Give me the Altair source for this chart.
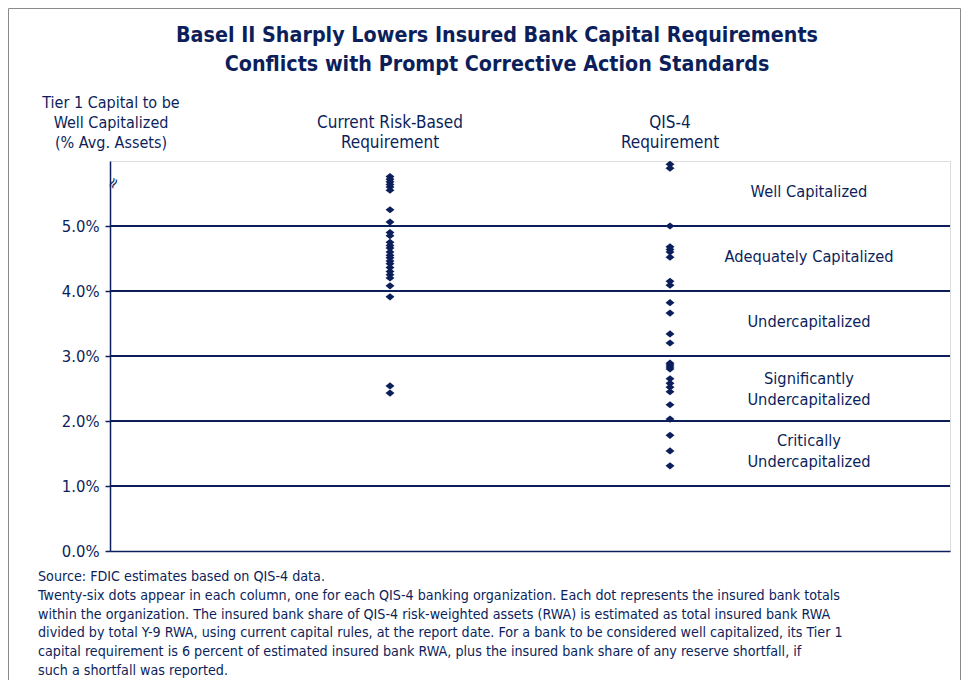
import altair as alt
import pandas as pd

NAVY = "#0c1f5b"
FONT = "Liberation Sans Narrow, DejaVu Sans Condensed, sans-serif"

# ---- data ----
columns = ["Current Risk-Based Requirement", "QIS-4 Requirement"]
header_labels = ["Current Risk-Based\nRequirement", "QIS-4\nRequirement"]

current_vals = [5.76, 5.72, 5.68, 5.64, 5.60, 5.55, 5.25, 5.06, 4.90, 4.85,
                4.75, 4.70, 4.66, 4.60, 4.55, 4.51, 4.46, 4.42, 4.36, 4.30,
                4.25, 4.20, 4.08, 3.91, 2.54, 2.43]
qis_vals = [5.95, 5.89, 5.00, 4.68, 4.64, 4.60, 4.52, 4.15, 4.09, 3.82,
            3.66, 3.34, 3.20, 2.89, 2.86, 2.83, 2.80, 2.65, 2.58, 2.52,
            2.45, 2.25, 2.03, 1.78, 1.54, 1.31]

grid_vals = [1, 2, 3, 4, 5]
tick_vals = [0, 1, 2, 3, 4, 5]

zone_labels = ["Well Capitalized", "Adequately Capitalized", "Undercapitalized",
               "Significantly\nUndercapitalized", "Critically\nUndercapitalized"]
zone_first_line = [5.52, 4.52, 3.52, 2.65, 1.69]

break_at = [5.66]

title_text = "Basel II Sharply Lowers Insured Bank Capital Requirements\nConflicts with Prompt Corrective Action Standards"
y_title_text = "Tier 1 Capital to be\nWell Capitalized\n(% Avg. Assets)"
footnote_text = "\n".join([
    "Source: FDIC estimates based on QIS-4 data.",
    "Twenty-six dots appear in each column, one for each QIS-4 banking organization. Each dot represents the insured bank totals",
    "within the organization. The insured bank share of QIS-4 risk-weighted assets (RWA) is estimated as total insured bank RWA",
    "divided by total Y-9 RWA, using current capital rules, at the report date. For a bank to be considered well capitalized, its Tier 1",
    "capital requirement is 6 percent of estimated insured bank RWA, plus the insured bank share of any reserve shortfall, if",
    "such a shortfall was reported.",
])

# ---- tables ----
dots = pd.DataFrame({
    "column": [columns[0]] * len(current_vals) + [columns[1]] * len(qis_vals),
    "value": current_vals + qis_vals,
})
grid_df = pd.DataFrame({"value": grid_vals})
zones_df = pd.DataFrame({"label": zone_labels, "value": zone_first_line})
headers_df = pd.DataFrame({"column": columns, "label": header_labels})
break_df = pd.DataFrame({"value": break_at, "sym": ["≈"]})
one = pd.DataFrame({"t": [title_text], "y": [y_title_text], "f": [footnote_text]})

xscale = alt.Scale(type="point", domain=columns, padding=1)
yscale = alt.Scale(domain=[0, 6], nice=False)

grid = alt.Chart(grid_df).mark_rule(color=NAVY, strokeWidth=2).encode(
    y=alt.Y("value:Q", scale=yscale)
)

points = alt.Chart(dots).mark_point(
    shape="M-1,0L0,-0.8L1,0L0,0.8Z", filled=True, size=80, color=NAVY, opacity=1
).encode(
    x=alt.X("column:N", scale=xscale,
            axis=alt.Axis(labels=False, ticks=False, title=None, domain=True,
                          domainColor=NAVY, domainWidth=1.5)),
    y=alt.Y("value:Q", scale=yscale,
            axis=alt.Axis(values=tick_vals, labelExpr="format(datum.value, '.1f') + '%'",
                          title=None, grid=False, tickSize=5, tickColor=NAVY, tickWidth=1.5,
                          domainColor=NAVY, domainWidth=1.5, labelColor=NAVY,
                          labelFont=FONT, labelFontSize=16.5, labelPadding=6)),
)

headers = alt.Chart(headers_df).mark_text(
    font=FONT, fontSize=17, color=NAVY, lineBreak="\n", lineHeight=20,
    align="center", baseline="middle"
).encode(x=alt.X("column:N", scale=xscale), y=alt.value(-38), text="label:N")

zones = alt.Chart(zones_df).mark_text(
    font=FONT, fontSize=16.3, color=NAVY, lineBreak="\n", lineHeight=21,
    align="center", baseline="middle"
).encode(x=alt.value(699), y=alt.Y("value:Q", scale=yscale), text="label:N")

brk = alt.Chart(break_df).mark_text(
    font="DejaVu Sans", fontSize=15, color=NAVY, align="center", baseline="middle",
    angle=300
).encode(x=alt.value(3), y=alt.Y("value:Q", scale=yscale), text="sym:N")

title = alt.Chart(one).mark_text(
    font=FONT, fontSize=21.3, fontWeight="bold", color=NAVY, lineBreak="\n",
    lineHeight=29, align="center", baseline="middle"
).encode(x=alt.value(387), y=alt.value(-125), text="t:N")

ytitle = alt.Chart(one).mark_text(
    font=FONT, fontSize=16, color=NAVY, lineBreak="\n", lineHeight=20,
    align="center", baseline="middle"
).encode(x=alt.value(1), y=alt.value(-58), text="y:N")

foot = alt.Chart(one).mark_text(
    font=FONT, fontSize=14.2, color=NAVY, lineBreak="\n", lineHeight=18.8,
    align="left", baseline="middle"
).encode(x=alt.value(-72), y=alt.value(416), text="f:N")

border = alt.Chart(one).mark_rect(
    fillOpacity=0, stroke="#8a8a8a", strokeWidth=1
).encode(x=alt.value(-101.5), x2=alt.value(850.5), y=alt.value(-152.5), y2=alt.value(600))

chart = alt.layer(
    border, grid, points, headers, zones, brk, title, ytitle, foot
).properties(
    width=840, height=390,
    padding={"left": 102, "top": 153, "right": 11, "bottom": 129},
    autosize=alt.AutoSizeParams(type="none"),
).configure_view(stroke=None).configure(background="white")

chart.save("out.html", embed_options={"renderer": "svg", "actions": False})
